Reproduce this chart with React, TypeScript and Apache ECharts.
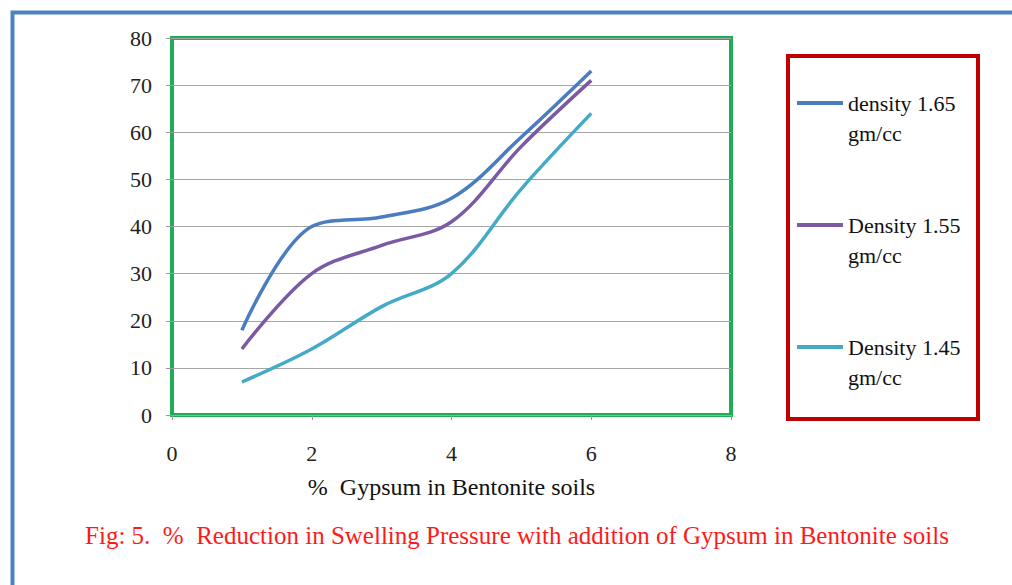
import React, { useEffect, useRef } from "react";
import * as echarts from "echarts";

const xValues = [1, 2, 3, 4, 5, 6];
const density165 = [18, 40, 42, 46, 59, 73];
const density155 = [14, 30, 36, 41, 57, 71];
const density145 = [7, 14, 23, 30, 48, 64];
const seriesNames = ["density 1.65 gm/cc", "Density 1.55 gm/cc", "Density 1.45 gm/cc"];
const seriesColors = ["#4a7dbf", "#7b5aa3", "#45aac8"];
const xAxisTitle = "%  Gypsum in Bentonite soils";
const caption = "Fig: 5.  %  Reduction in Swelling Pressure with addition of Gypsum in Bentonite soils";

const FONT = "'Liberation Serif', 'Times New Roman', serif";

export default function App() {
  const ref = useRef<HTMLDivElement>(null);
  useEffect(() => {
    document.body.style.margin = "0";
    const chart = echarts.init(ref.current!, null, { renderer: "svg" });
    const values = [density165, density155, density145];
    chart.setOption({
      animation: false,
      backgroundColor: "#ffffff",
      grid: { left: 172, top: 38, right: 281, bottom: 170, show: true, borderColor: "#1fae55", borderWidth: 4, backgroundColor: "transparent" },
      xAxis: {
        type: "value",
        min: 0,
        max: 8,
        interval: 2,
        name: xAxisTitle,
        nameLocation: "middle",
        nameGap: 60,
        nameTextStyle: { fontFamily: FONT, fontSize: 24, color: "#111" },
        axisLine: { show: false },
        axisTick: { show: true, length: 5, lineStyle: { color: "#999" } },
        axisLabel: { fontFamily: FONT, fontSize: 22, color: "#222", margin: 27 },
        splitLine: { show: false },
      },
      yAxis: {
        type: "value",
        min: 0,
        max: 80,
        interval: 10,
        axisLine: { show: false },
        axisTick: { show: true, length: 6, lineStyle: { color: "#999" } },
        axisLabel: { fontFamily: FONT, fontSize: 22, color: "#222", margin: 20 },
        splitLine: { show: true, lineStyle: { color: "#a6a6a6", width: 1.2 } },
      },
      legend: {
        orient: "vertical",
        left: 792,
        top: 53,
        itemGap: 32,
        icon: "rect",
        itemWidth: 46,
        itemHeight: 4,
        formatter: (name: string) => " \n" + name.replace(" gm/cc", "\ngm/cc"),
        textStyle: { fontFamily: FONT, fontSize: 22, color: "#111", lineHeight: 30 },
        data: seriesNames,
      },
      series: values.map((v, i) => ({
        name: seriesNames[i],
        type: "line",
        data: xValues.map((x, j) => [x, v[j]]),
        smooth: 0.35,
        symbol: "none",
        showSymbol: false,
        lineStyle: { color: seriesColors[i], width: 3.5 },
        itemStyle: { color: seriesColors[i] },
      })),
      graphic: [
        { type: "rect", left: 10, top: 10, shape: { width: 1010, height: 600 }, style: { fill: "none", stroke: "#4f81bd", lineWidth: 4 }, z: 100 },
        { type: "rect", shape: { x: 788, y: 56, width: 190, height: 363 }, style: { fill: "none", stroke: "#c00000", lineWidth: 4 }, z: 100 },
        { type: "text", x: 517, y: 535, style: { text: caption, fontFamily: FONT, fontSize: 25, fill: "#ff1a1a", textAlign: "center", textVerticalAlign: "middle" }, z: 100 },
      ],
    });
    return () => chart.dispose();
  }, []);
  return <div ref={ref} style={{ width: 1012, height: 585 }} />;
}
